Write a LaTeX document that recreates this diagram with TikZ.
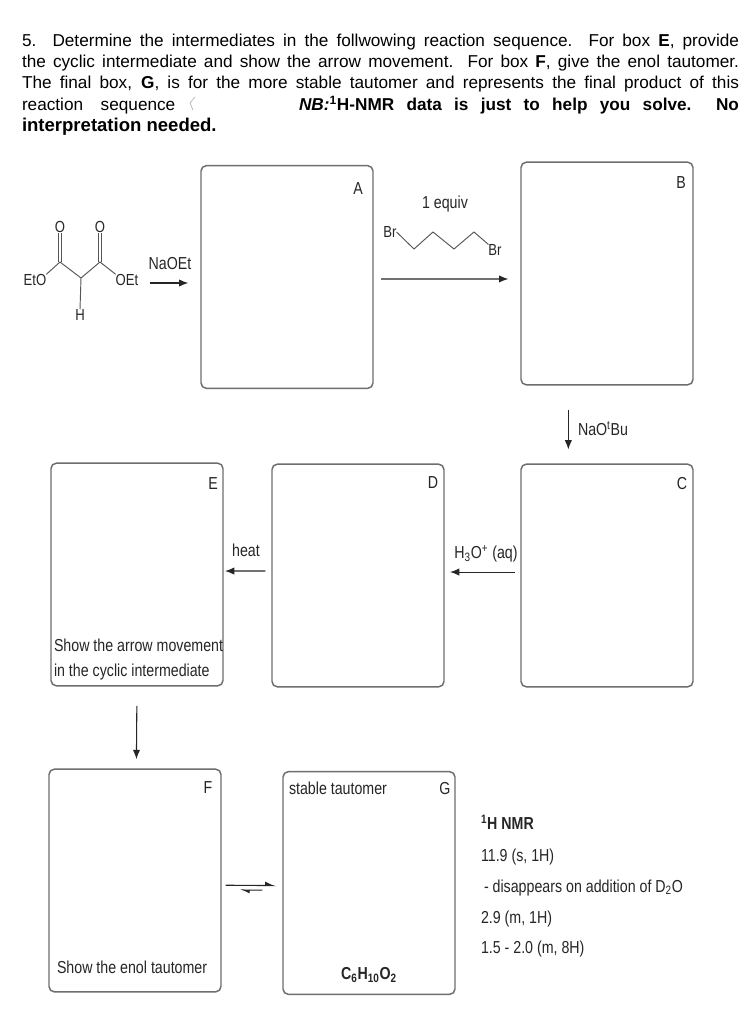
\documentclass[tikz,border=0pt]{standalone}
\usepackage{fontspec}
\setmainfont{Liberation Sans}
\newfontfamily\narrowf[FakeStretch=0.82]{Liberation Sans}
\definecolor{boxgray}{HTML}{6E6E6E}
\definecolor{bondgray}{HTML}{555555}
\usetikzlibrary{arrows.meta}
\tikzset{
  px/.style={x=0.75pt,y=-0.75pt},
  panel/.style={draw=boxgray,line width=1.1pt,rounded corners=4pt,minimum width=129pt,minimum height=167pt,inner sep=0pt,outer sep=0pt},
  para/.style={anchor=base west,inner sep=0pt,outer sep=0pt,font=\fontsize{12.9}{15}\selectfont},
  lbl/.style={inner sep=0pt,outer sep=0pt,font=\narrowf\fontsize{13}{15}\selectfont,text=black!85},
  lblw/.style={lbl,anchor=base west},
  atom/.style={inner sep=0pt,outer sep=0pt,font=\narrowf\fontsize{12}{14}\selectfont,text=black!85},
  bond/.style={draw=bondgray,line width=0.7pt},
  arr/.style={draw=black!85,line width=0.8pt,-{Latex[length=7pt,width=5.5pt]}},
}
\newcommand{\bigb}[1]{{\bfseries\fontsize{13.9}{15}\selectfont #1}}
\begin{document}
\begin{tikzpicture}[px]
\path[use as bounding box,fill=white] (0,0) rectangle (749,1024);
% question text
\def\W{537.75pt}
\node[para] (l1) at (22,47) {\makebox[\W][s]{5. Determine the intermediates in the follwowing reaction sequence.\ \ For box \textbf{E}, provide}};
\node[para] (l2) at (22,68) {\makebox[\W][s]{the cyclic intermediate and show the arrow movement.\ \ For box \textbf{F}, give the enol tautomer.}};
\node[para] (l3) at (22,89) {\makebox[\W][s]{The final box, \textbf{G}, is for the more stable tautomer and represents the final product of this}};
\node[para] (l4a) at (22,110) {\makebox[115pt][s]{reaction sequence}};
\node[para] (l4b) at (299,110) {\makebox[330pt][s]{\textbf{\textit{NB:}\textsuperscript{1}H-NMR data is just to help you solve.\ \ No}}};
\node[para] (l5) at (22,131) {\bigb{interpretation needed.}};
\draw[gray!70,line width=0.4pt] (195,97) -- (190,103) -- (193,110);
% boxes
\node[panel] (A) at (287,277) {};
\node[panel] (B) at (607,273.5) {};
\node[panel] (C) at (607,575.5) {};
\node[panel] (D) at (358,575.5) {};
\node[panel] (E) at (137,574.5) {};
\node[panel] (F) at (135,880.5) {};
\node[panel] (G) at (369,883) {};
% box letters
\node[lbl] (la) at (358,189) {A};
\node[lbl] (lb) at (681,183) {B};
\node[lbl] (lc) at (682,484) {C};
\node[lbl] (ld) at (433,483) {D};
\node[lbl] (le) at (213,484) {E};
\node[lbl] (lf) at (208,788) {F};
\node[lbl] (lg) at (445,789) {G};
% box captions
\node[lblw] (e1) at (54,651) {Show the arrow movement};
\node[lblw] (e2) at (54,676) {in the cyclic intermediate};
\node[lblw] (f1) at (57,973) {Show the enol tautomer};
\node[lblw] (g1) at (289,794) {stable tautomer};
\node[lbl,font=\narrowf\bfseries\fontsize{13}{15}\selectfont] (g2) at (369,975) {C\textsubscript{6}H\textsubscript{10}O\textsubscript{2}};
% malonate
\node[atom] (o1) at (60,227) {O};
\node[atom] (o2) at (100,227) {O};
\node[atom] (eto) at (35,280) {EtO};
\node[atom] (oet) at (127,280) {OEt};
\node[atom] (h) at (80,315) {H};
\coordinate (c1) at (60,262);
\coordinate (c2) at (100,262);
\coordinate (ch) at (81,278);
\draw[bond] ([xshift=-1pt]c1) -- ([xshift=-1pt]o1.south);
\draw[bond] ([xshift=1pt]c1) -- ([xshift=1pt]o1.south);
\draw[bond] ([xshift=-1pt]c2) -- ([xshift=-1pt]o2.south);
\draw[bond] ([xshift=1pt]c2) -- ([xshift=1pt]o2.south);
\draw[bond] (eto.north east) -- (c1) -- (ch) -- (c2) -- (oet.north west);
\draw[bond] (ch) -- (h.north);
\node[lbl] (naoet) at (170,264) {NaOEt};
\draw[arr,shorten <=9pt,shorten >=9.5pt] ([yshift=-2.25pt]oet.east) -- ([yshift=-4.5pt]A.west);
% dibromide
\node[lbl] (equiv) at (445,204) {1 equiv};
\node[atom] (br1) at (390,232) {Br};
\node[atom] (br2) at (495,250) {Br};
\coordinate (p1) at (414,249);
\coordinate (p2) at (433,232);
\coordinate (p3) at (454,249);
\coordinate (p4) at (474,232);
\draw[bond] (br1.east) -- (p1) -- (p2) -- (p3) -- (p4) -- (br2.north west);
\draw[arr,shorten <=6pt,shorten >=9.5pt] ([yshift=-1.5pt]A.east) -- ([yshift=-4.1pt]B.west);
% reagents and arrows
\draw[arr,shorten <=18.5pt,shorten >=11pt] ([xshift=-29pt]B.south) -- ([xshift=-29pt]C.north);
\node[lblw] (nao) at (578,435) {NaO\textsuperscript{t}Bu};
\draw[arr,shorten <=4.5pt,shorten >=4.5pt] ([yshift=2.6pt]C.west) -- ([yshift=2.6pt]D.east);
\node[lbl] (h3o) at (486,554) {H\textsubscript{3}O\textsuperscript{+} (aq)};
\draw[arr,shorten <=5pt,shorten >=1.5pt] ([yshift=3.4pt]D.west) -- ([yshift=2.6pt]E.east);
\node[lbl] (heat) at (246,550) {heat};
\draw[arr,shorten <=15pt,shorten >=7.5pt] (E.south) -- ([xshift=1pt]F.north);
\draw[draw=black!85,line width=0.8pt,-{Latex[length=7pt,width=6pt,left]},shorten <=3.5pt,shorten >=5pt] ([yshift=-3.5pt]F.east) -- ([yshift=-2pt]G.west);
\draw[draw=black!85,line width=0.8pt,-{Latex[length=6pt,width=5pt,left]},shorten <=15.5pt,shorten >=14pt] ([yshift=-5.5pt]G.west) -- ([yshift=-7pt]F.east);
% NMR data
\node[lblw,font=\narrowf\bfseries\fontsize{13}{15}\selectfont] (n1) at (481,829) {\textsuperscript{1}H NMR};
\node[lblw] (n2) at (481,861) {11.9 (s, 1H)};
\node[lblw] (n3) at (484,892) {- disappears on addition of D\textsubscript{2}O};
\node[lblw] (n4) at (481,923) {2.9 (m, 1H)};
\node[lblw] (n5) at (481,953) {1.5 - 2.0 (m, 8H)};
\end{tikzpicture}
\end{document}
